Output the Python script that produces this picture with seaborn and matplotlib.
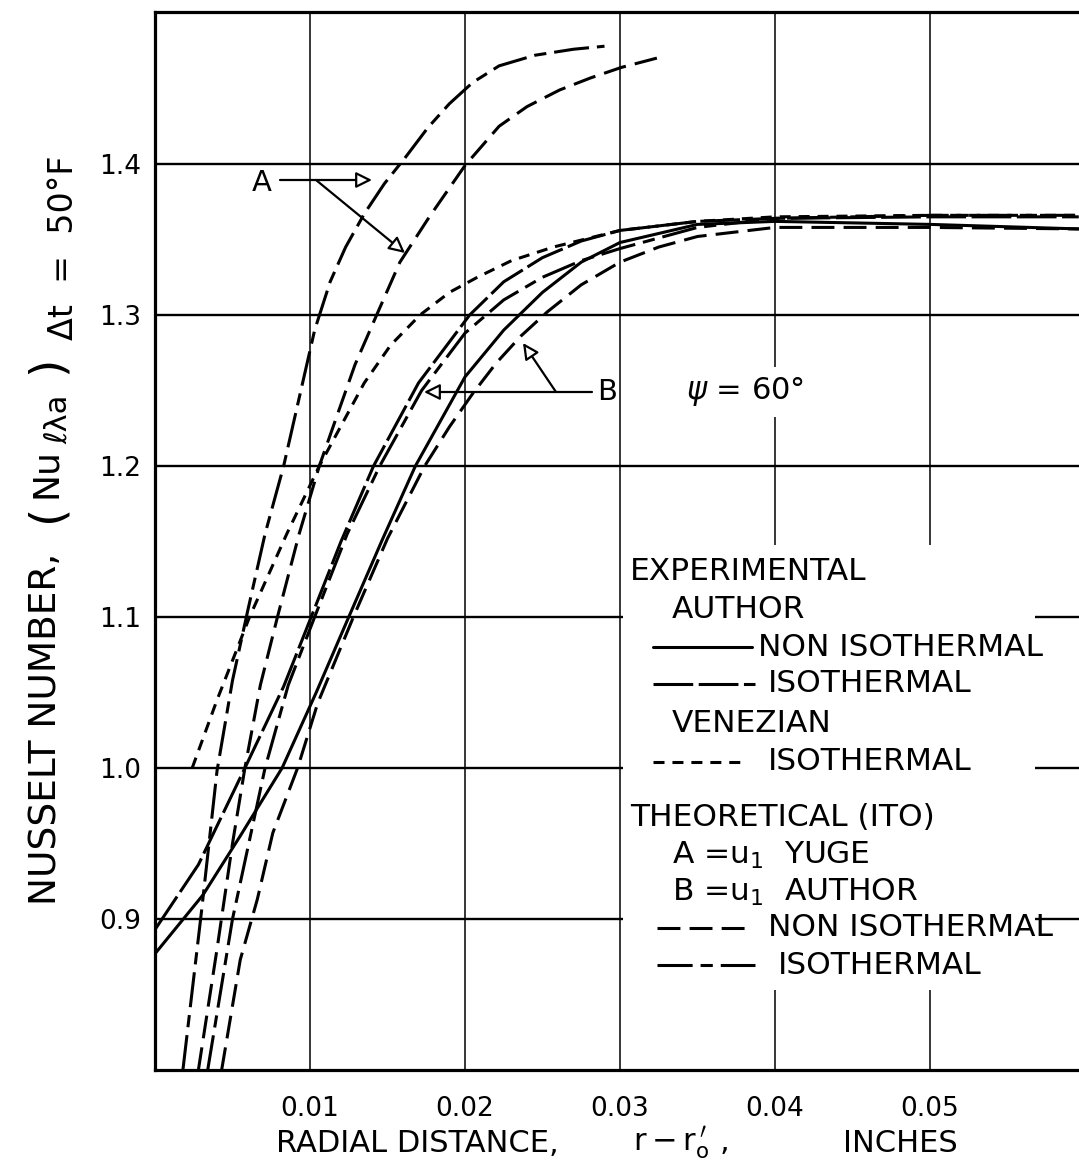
import matplotlib
matplotlib.use("Agg")
import matplotlib.pyplot as plt
from matplotlib.patches import Rectangle
from matplotlib.lines import Line2D
import seaborn as sns

# ---------------- data ----------------
x_ticks = [0.01, 0.02, 0.03, 0.04, 0.05]
x_ticklabels = ["0.01", "0.02", "0.03", "0.04", "0.05"]
y_ticks = [0.9, 1.0, 1.1, 1.2, 1.3, 1.4]
y_ticklabels = ["0.9", "1.0", "1.1", "1.2", "1.3", "1.4"]

# Experimental, author, non-isothermal (solid)
exp_noniso_x = [0.0, 0.0031, 0.0055, 0.0082, 0.0104, 0.0125, 0.0147, 0.0168, 0.0200, 0.0225, 0.0250, 0.0275, 0.0300, 0.0350, 0.0400, 0.0500, 0.0596]
exp_noniso_y = [0.877, 0.916, 0.955, 1.000, 1.050, 1.100, 1.152, 1.200, 1.259, 1.290, 1.315, 1.335, 1.348, 1.360, 1.362, 1.360, 1.357]

# Experimental, author, isothermal (long dash)
exp_iso_x = [0.0, 0.0028, 0.0058, 0.0083, 0.0100, 0.0120, 0.0141, 0.0170, 0.0203, 0.0225, 0.0250, 0.0275, 0.0300, 0.0350, 0.0400, 0.0500, 0.0596]
exp_iso_y = [0.893, 0.936, 1.000, 1.054, 1.098, 1.150, 1.200, 1.255, 1.300, 1.322, 1.338, 1.349, 1.356, 1.362, 1.364, 1.365, 1.365]

# Experimental, Venezian, isothermal (short dash)
ven_iso_x = [0.0024, 0.0040, 0.0061, 0.0085, 0.0106, 0.0135, 0.0152, 0.0171, 0.0190, 0.0208, 0.0230, 0.0257, 0.0300, 0.0350, 0.0400, 0.0500, 0.0596]
ven_iso_y = [1.000, 1.045, 1.100, 1.155, 1.200, 1.255, 1.280, 1.300, 1.315, 1.325, 1.336, 1.345, 1.356, 1.362, 1.365, 1.366, 1.366]

# Theoretical (Ito), A = u1 Yuge, isothermal
a_iso_x = [0.0018, 0.0030, 0.0040, 0.0050, 0.0060, 0.0071, 0.0083, 0.0093, 0.0103, 0.0113, 0.0123, 0.0135, 0.0148, 0.0162, 0.0176, 0.0190, 0.0205, 0.0222, 0.0245, 0.0270, 0.0290]
a_iso_y = [0.800, 0.905, 0.998, 1.058, 1.105, 1.155, 1.200, 1.245, 1.290, 1.322, 1.345, 1.367, 1.387, 1.405, 1.424, 1.440, 1.454, 1.465, 1.472, 1.476, 1.478]

# Theoretical (Ito), A = u1 Yuge, non-isothermal
a_noniso_x = [0.0028, 0.0040, 0.0050, 0.0058, 0.0068, 0.0079, 0.0093, 0.0106, 0.0118, 0.0129, 0.0143, 0.0158, 0.0177, 0.0200, 0.0222, 0.0240, 0.0261, 0.0281, 0.0301, 0.0327]
a_noniso_y = [0.800, 0.880, 0.950, 1.000, 1.055, 1.100, 1.155, 1.200, 1.235, 1.267, 1.300, 1.335, 1.365, 1.399, 1.425, 1.438, 1.449, 1.457, 1.464, 1.471]

# Theoretical (Ito), B = u1 author, isothermal
b_iso_x = [0.0034, 0.0050, 0.0071, 0.0086, 0.0103, 0.0124, 0.0145, 0.0172, 0.0200, 0.0225, 0.0250, 0.0275, 0.0300, 0.0350, 0.0400, 0.0500, 0.0596]
b_iso_y = [0.800, 0.900, 1.000, 1.055, 1.100, 1.155, 1.200, 1.250, 1.288, 1.310, 1.325, 1.336, 1.344, 1.358, 1.364, 1.366, 1.366]

# Theoretical (Ito), B = u1 author, non-isothermal
b_noniso_x = [0.0043, 0.0055, 0.0066, 0.0076, 0.0092, 0.0105, 0.0128, 0.0150, 0.0174, 0.0190, 0.0205, 0.0220, 0.0236, 0.0253, 0.0275, 0.0300, 0.0325, 0.0350, 0.0400, 0.0500, 0.0596]
b_noniso_y = [0.800, 0.873, 0.913, 0.957, 1.000, 1.043, 1.100, 1.152, 1.200, 1.226, 1.248, 1.268, 1.286, 1.302, 1.320, 1.335, 1.345, 1.352, 1.358, 1.358, 1.357]

# ---------------- styles ----------------
LW = 2.2
STY = {
    "exp_noniso": "-",
    "exp_iso": (0, (13, 1.8)),
    "ven_iso": (0, (3.6, 2.6)),
    "theo_noniso": (0, (7.5, 3.0)),
    "theo_iso": (0, (11.5, 2.6, 4.0, 2.6)),
}

sns.set_theme(style="white")
plt.rcParams["font.family"] = ["DejaVu Sans"]
plt.rcParams["mathtext.fontset"] = "dejavusans"
plt.rcParams["text.color"] = "black"

W, H = 1079, 1167
fig = plt.figure(figsize=(W / 100, H / 100), dpi=100)
AX_L, AX_R, AX_B, AX_T = 155, 1079, 1070, 12
ax = fig.add_axes([AX_L / W, 1 - AX_B / H, (AX_R - AX_L) / W, (AX_B - AX_T) / H])
ax.set_facecolor("white")

XMAX = (AX_R - AX_L) / 15500.0
ax.set_xlim(0, XMAX)
ax.set_ylim(0.8, 0.8 + (AX_B - AX_T) / 1510.0)


def px(xp, yp):
    """pixel position in the figure -> axes fraction (for decorations)"""
    return ((xp - AX_L) / (AX_R - AX_L), (AX_B - yp) / (AX_B - AX_T))


def fpx(xp, yp):
    """pixel position -> figure fraction"""
    return (xp / W, 1 - yp / H)


# grid
ax.set_axisbelow(True)
ax.set_xticks(x_ticks)
ax.set_xticklabels(x_ticklabels)
ax.set_yticks(y_ticks)
ax.set_yticklabels(y_ticklabels)
ax.xaxis.grid(True, color="black", lw=1.1)
ax.yaxis.grid(True, color="black", lw=1.7)
ax.tick_params(axis="both", length=0, labelsize=19, colors="black")
ax.tick_params(axis="x", pad=19)
ax.tick_params(axis="y", pad=10)

for s in ["left", "bottom", "top"]:
    ax.spines[s].set_color("black")
    ax.spines[s].set_linewidth(2.3)
ax.spines["right"].set_visible(False)

# curves
series = [
    (exp_noniso_x, exp_noniso_y, "exp_noniso"),
    (exp_iso_x, exp_iso_y, "exp_iso"),
    (ven_iso_x, ven_iso_y, "ven_iso"),
    (a_iso_x, a_iso_y, "theo_iso"),
    (a_noniso_x, a_noniso_y, "theo_noniso"),
    (b_iso_x, b_iso_y, "theo_iso"),
    (b_noniso_x, b_noniso_y, "theo_noniso"),
]
for xs, ys, st in series:
    sns.lineplot(x=xs, y=ys, ax=ax, color="black", lw=LW, linestyle=STY[st],
                 sort=False, estimator=None, zorder=3)

# white box behind the legend (interrupts grid lines)
x0, y0 = px(623, 990)
x1, y1 = px(1035, 545)
ax.add_patch(Rectangle((x0, y0), x1 - x0, y1 - y0, transform=ax.transAxes,
                       facecolor="white", edgecolor="none", zorder=1))

FS = 22.5
def t(s, xp, yp, **kw):
    ax.text(*px(xp, yp), s, transform=ax.transAxes, fontsize=FS, ha="left",
            va="center", color="black", zorder=5, **kw)

def sample(xa, xb, yp, st):
    (ax0, ay), (ax1, _) = px(xa, yp), px(xb, yp)
    ax.add_line(Line2D([ax0, ax1], [ay, ay], transform=ax.transAxes,
                       color="black", lw=LW, linestyle=STY[st], zorder=5))

t("EXPERIMENTAL", 630, 572)
t("AUTHOR", 672, 610)
sample(653, 752, 647, "exp_noniso"); t("NON ISOTHERMAL", 758, 647)
sample(653, 755, 684, "exp_iso"); t("ISOTHERMAL", 768, 684)
t("VENEZIAN", 672, 723)
sample(653, 745, 762, "ven_iso"); t("ISOTHERMAL", 768, 762)
t("THEORETICAL (ITO)", 630, 817)
t(r"A =u$_{\mathrm{1}}$  YUGE", 672, 855)
t(r"B =u$_{\mathrm{1}}$  AUTHOR", 672, 892)
sample(657, 752, 928, "theo_noniso"); t("NON ISOTHERMAL", 768, 928)
sample(657, 755, 965, "theo_iso"); t("ISOTHERMAL", 778, 965)

# psi label
ax.text(*px(745, 392), r"$\psi$ = 60°", transform=ax.transAxes, fontsize=22,
        ha="center", va="center", zorder=5, color="black",
        bbox=dict(facecolor="white", edgecolor="none", pad=6))

# A / B annotations
arrow = dict(arrowstyle="-|>", color="black", lw=1.6, mutation_scale=24,
             fc="white", shrinkA=0, shrinkB=0)
ax.text(*px(262, 183), "A", transform=ax.transAxes, fontsize=21,
        ha="center", va="center", zorder=5, color="black")
ax.annotate("", xy=px(372, 180), xytext=px(280, 180), xycoords="axes fraction",
            textcoords="axes fraction", arrowprops=arrow, zorder=5)
ax.annotate("", xy=px(405, 253), xytext=px(316, 180), xycoords="axes fraction",
            textcoords="axes fraction", arrowprops=arrow, zorder=5)
ax.text(*px(607, 392), "B", transform=ax.transAxes, fontsize=21,
        ha="center", va="center", zorder=5, color="black")
ax.annotate("", xy=px(424, 392), xytext=px(592, 392), xycoords="axes fraction",
            textcoords="axes fraction", arrowprops=arrow, zorder=5)
ax.annotate("", xy=px(523, 343), xytext=px(556, 392), xycoords="axes fraction",
            textcoords="axes fraction", arrowprops=arrow, zorder=5)

# x axis label (three parts, spaced as in the reference)
XL_Y = 1143
fig.text(*fpx(417, XL_Y), "RADIAL DISTANCE,", fontsize=22, ha="center", va="center", color="black")
fig.text(*fpx(681, XL_Y), r"$\mathrm{r} - \mathrm{r}_{\mathrm{o}}^{\,\prime}$ ,", fontsize=22,
         ha="center", va="center", color="black")
fig.text(*fpx(900, XL_Y), "INCHES", fontsize=22, ha="center", va="center", color="black")

# y axis label (rotated pieces)
def ylab(s, xp, yp, size):
    fig.text(*fpx(xp, yp), s, fontsize=size, rotation=90, rotation_mode="anchor",
             ha="left", va="baseline", color="black")

ylab("NUSSELT NUMBER,", 56, 905, 27)
ylab("(", 60, 522, 34)
ylab("Nu", 56, 498, 26)
ylab("ℓλa", 67, 444, 22)
ylab(")", 60, 374, 34)
ylab("Δt  =  50°F", 73, 340, 24)

fig.savefig("out.png", dpi=100, facecolor="white")
